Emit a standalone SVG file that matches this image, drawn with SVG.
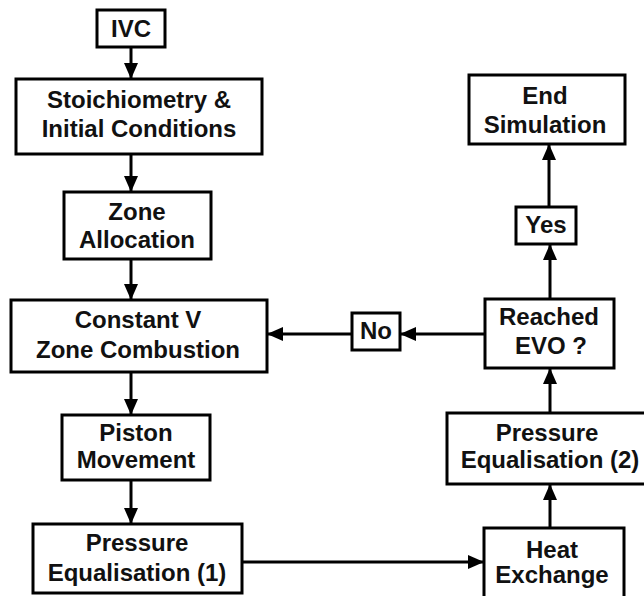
<svg xmlns="http://www.w3.org/2000/svg" width="644" height="596" viewBox="0 0 644 596">
<defs>
<marker id="ah" markerUnits="userSpaceOnUse" markerWidth="16" markerHeight="14" viewBox="0 0 16 14" refX="15" refY="7" orient="auto">
<path d="M0,0 L16,7 L0,14 z" fill="#000"/>
</marker>
<style>
rect{fill:#fff;stroke:#000;stroke-width:3}
text{font-family:"Liberation Sans",Arial,sans-serif;font-weight:bold;font-size:24px;fill:#111;text-anchor:middle}
#connectors line{stroke:#000;stroke-width:3;marker-end:url(#ah)}
</style>
</defs>
<rect x="0" y="0" width="644" height="596" style="fill:#fff;stroke:none"/>
<g id="connectors">
<line x1="131" y1="47" x2="131" y2="78"/>
<line x1="131" y1="154" x2="131" y2="191"/>
<line x1="131" y1="259" x2="131" y2="299"/>
<line x1="131" y1="372" x2="131" y2="414"/>
<line x1="131" y1="480" x2="131" y2="523"/>
<line x1="242" y1="562" x2="483" y2="562"/>
<line x1="550" y1="528" x2="550" y2="485"/>
<line x1="550" y1="413" x2="550" y2="369"/>
<line x1="550" y1="299" x2="550" y2="245"/>
<line x1="549" y1="207" x2="549" y2="145"/>
<line x1="485" y1="334" x2="401" y2="334"/>
<line x1="352" y1="334" x2="268" y2="334"/>
</g>
<g id="ivc"><rect x="97" y="10" width="68" height="37"/><text x="131" y="37">IVC</text></g>
<g id="stoich"><rect x="16" y="79" width="246" height="75"/><text x="139" y="108">Stoichiometry &amp;</text><text x="139" y="137">Initial Conditions</text></g>
<g id="zone"><rect x="64" y="192" width="147" height="67"/><text x="137" y="220">Zone</text><text x="137" y="248">Allocation</text></g>
<g id="constv"><rect x="11" y="300" width="256" height="72"/><text x="138" y="328">Constant V</text><text x="138" y="358">Zone Combustion</text></g>
<g id="piston"><rect x="62" y="415" width="148" height="65"/><text x="136" y="441">Piston</text><text x="136" y="468">Movement</text></g>
<g id="press1"><rect x="33" y="524" width="209" height="69"/><text x="137" y="551">Pressure</text><text x="137" y="581">Equalisation (1)</text></g>
<g id="heat"><rect x="484" y="528" width="140" height="80"/><text x="552" y="558">Heat</text><text x="552" y="583">Exchange</text></g>
<g id="press2"><rect x="447" y="413" width="210" height="71"/><text x="547" y="441">Pressure</text><text x="550" y="468">Equalisation (2)</text></g>
<g id="reached"><rect x="485" y="299" width="129" height="69"/><text x="549" y="325">Reached</text><text x="551" y="354">EVO ?</text></g>
<g id="no"><rect x="352" y="313" width="48" height="37"/><text x="376" y="339">No</text></g>
<g id="yes"><rect x="516" y="207" width="60" height="37"/><text x="546" y="233">Yes</text></g>
<g id="end"><rect x="469" y="75" width="156" height="69"/><text x="545" y="104">End</text><text x="545" y="133">Simulation</text></g>
</svg>
